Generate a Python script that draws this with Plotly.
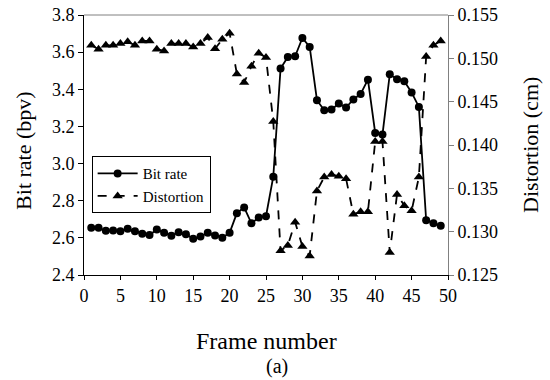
import plotly.graph_objects as go

frames = list(range(1, 50))
bit_rate = [2.654, 2.654, 2.638, 2.640, 2.635, 2.649, 2.635, 2.622, 2.615, 2.645,
            2.628, 2.611, 2.630, 2.620, 2.595, 2.607, 2.628, 2.613, 2.600, 2.627,
            2.733, 2.764, 2.678, 2.710, 2.717, 2.929, 3.512, 3.574, 3.578, 3.676,
            3.628, 3.341, 3.287, 3.291, 3.323, 3.302, 3.345, 3.375, 3.452, 3.165,
            3.156, 3.481, 3.454, 3.443, 3.383, 3.305, 2.695, 2.678, 2.665]
distortion = [0.1515, 0.15105, 0.1515, 0.1515, 0.1517, 0.1519, 0.1515, 0.1520, 0.1520, 0.15105,
              0.15085, 0.1517, 0.1517, 0.1517, 0.1513, 0.1517, 0.1524, 0.1511, 0.1522, 0.1529,
              0.1482, 0.1472, 0.1491, 0.1506, 0.1501, 0.1427, 0.1278, 0.1284, 0.1311, 0.1283,
              0.1272, 0.1347, 0.1363, 0.1366, 0.1364, 0.1361, 0.1320, 0.1323, 0.1323, 0.1404,
              0.1404, 0.1276, 0.1343, 0.1330, 0.1324, 0.1363, 0.1502, 0.1515, 0.1520]

FONT = "Liberation Serif"

fig = go.Figure()
fig.add_trace(go.Scatter(x=frames, y=bit_rate, name="Bit rate", mode="lines+markers",
                         line=dict(color="black", width=1.8),
                         marker=dict(symbol="circle", size=8, color="black")))
fig.add_trace(go.Scatter(x=frames, y=distortion, name="Distortion", mode="lines+markers",
                         yaxis="y2",
                         line=dict(color="black", width=1.8, dash="dash"),
                         marker=dict(symbol="triangle-up", size=9, color="black")))

fig.update_layout(
    width=550, height=380,
    margin=dict(l=84, r=102, t=15, b=105, autoexpand=False),
    plot_bgcolor="white", paper_bgcolor="white",
    font=dict(family=FONT, color="black", size=18),
    showlegend=True,
    legend=dict(x=0.021, y=0.457, xanchor="left", yanchor="top",
                bgcolor="white", bordercolor="black", borderwidth=1,
                font=dict(family=FONT, size=15, color="black"),
                itemwidth=40, tracegroupgap=0),
    xaxis=dict(range=[0, 50], tickvals=list(range(0, 51, 5)),
               showline=True, linecolor="black", linewidth=1,
               ticks="outside", ticklen=4, tickcolor="black",
               showgrid=False, zeroline=False,
               tickfont=dict(family=FONT, size=18)),
    yaxis=dict(range=[2.4, 3.8], tickvals=[2.4, 2.6, 2.8, 3.0, 3.2, 3.4, 3.6, 3.8],
               tickformat=".1f", ticklabeloverflow="allow",
               showline=True, linecolor="black", linewidth=1,
               ticks="outside", ticklen=5, tickcolor="black",
               showgrid=False, zeroline=False,
               tickfont=dict(family=FONT, size=18)),
    yaxis2=dict(range=[0.125, 0.155], overlaying="y", side="right",
                tickvals=[0.125, 0.130, 0.135, 0.140, 0.145, 0.150, 0.155],
                tickformat=".3f", ticklabeloverflow="allow",
                showline=True, linecolor="#808080", linewidth=1,
                ticks="outside", ticklen=5, tickcolor="#808080",
                showgrid=False, zeroline=False,
                tickfont=dict(family=FONT, size=18)),
    shapes=[dict(type="line", xref="paper", yref="paper", x0=0, x1=1, y0=1, y1=1,
                 line=dict(color="#808080", width=1))],
    annotations=[
        dict(text="Bit rate (bpv)", xref="paper", yref="paper", x=-0.1657, y=0.48,
             textangle=-90, showarrow=False, xanchor="center", yanchor="middle",
             font=dict(family=FONT, size=22)),
        dict(text="Distortion (cm)", xref="paper", yref="paper", x=1.225, y=0.5,
             textangle=-90, showarrow=False, xanchor="center", yanchor="middle",
             font=dict(family=FONT, size=22)),
        dict(text="Frame number", xref="paper", yref="paper", x=0.501, y=-0.252,
             showarrow=False, xanchor="center", yanchor="middle",
             font=dict(family=FONT, size=24)),
        dict(text="(a)", xref="paper", yref="paper", x=0.53, y=-0.35,
             showarrow=False, xanchor="center", yanchor="middle",
             font=dict(family=FONT, size=20)),
    ],
)

# remove the browser's default 8px page margin so the figure sits at (0, 0)
fig.write_html("out.html", config={"displayModeBar": False},
               post_script="document.body.style.margin='0';")
